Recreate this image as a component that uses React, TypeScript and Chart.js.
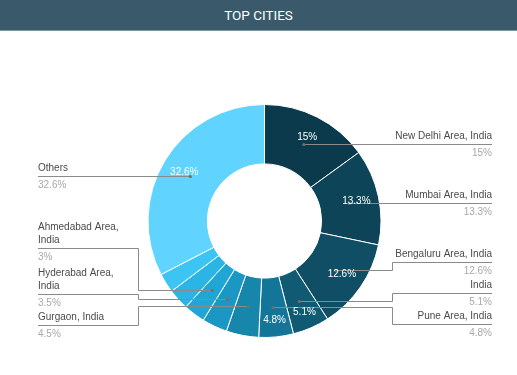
import React, { useEffect, useRef } from 'react';
import { Chart, registerables } from 'chart.js';

Chart.register(...registerables);

const TITLE = 'TOP CITIES';
const cities = [
  'New Delhi Area, India',
  'Mumbai Area, India',
  'Bengaluru Area, India',
  'India',
  'Pune Area, India',
  'Gurgaon, India',
  'Hyderabad Area, India',
  'Ahmedabad Area, India',
  'Chennai Area, India',
  'Kolkata Area, India',
  'Others',
];
const shares = [15, 13.3, 12.6, 5.1, 4.8, 4.5, 3.5, 3, 2.9, 2.7, 32.6];
const colors = [
  '#0b3a4c',
  '#0d4457',
  '#0f4e65',
  '#105a74',
  '#137698',
  '#1687ab',
  '#1a97c2',
  '#1fa6d4',
  '#2ab5e5',
  '#3cc4f3',
  '#60d4fe',
];
const OUTER_LABEL_MIN = 3;
const INNER_LABEL_MIN = 4.75;

const FONT = '10px "Liberation Sans", Arial, Helvetica, sans-serif';

function wrapText(ctx: CanvasRenderingContext2D, text: string, maxW: number): string[] {
  const words = text.split(' ');
  const lines: string[] = [];
  let cur = '';
  for (const w of words) {
    const test = cur ? cur + ' ' + w : w;
    if (cur && ctx.measureText(test).width > maxW) {
      lines.push(cur);
      cur = w;
    } else {
      cur = test;
    }
  }
  if (cur) lines.push(cur);
  return lines;
}

const labelPlugin = {
  id: 'cityLabels',
  afterDatasetsDraw(chart: any) {
    const ctx: CanvasRenderingContext2D = chart.ctx;
    const meta = chart.getDatasetMeta(0);
    const area = chart.chartArea;
    const W = chart.width;
    const first: any = meta.data[0];
    const cx = first.x;
    const cy = first.y;
    const outer = first.outerRadius;
    const inner = first.innerRadius;
    const midR = (outer + inner) / 2;
    const colW = 100;
    const edgeL = 38;
    const edgeR = W - 25;
    const below = 15.5;
    const above = (it: any) => 15.5 + 15 * (it.lines.length - 1);
    const maxY = area.bottom - 13;
    const minY = 20;

    ctx.save();
    ctx.font = FONT;

    const items: any[] = [];
    meta.data.forEach((arc: any, i: number) => {
      const v = shares[i];
      if (v < OUTER_LABEL_MIN) return;
      const mid = (arc.startAngle + arc.endAngle) / 2;
      const ax = cx + Math.cos(mid) * midR;
      const ay = cy + Math.sin(mid) * midR;
      items.push({
        i,
        ax,
        ay,
        side: ax >= cx ? 'right' : 'left',
        lines: wrapText(ctx, cities[i], colW - 1),
        y: ay,
      });
    });

    const place = (b: any) => {
      let t = 0;
      b.items.forEach((it: any, k: number) => (t += it.ay - b.offs[k]));
      t /= b.items.length;
      const last = b.offs[b.offs.length - 1];
      if (t + last > maxY) t = maxY - last;
      if (t < minY) t = minY;
      b.t = t;
    };

    const layout = (list: any[]) => {
      list.sort((a, b) => a.ay - b.ay);
      const blocks: any[] = [];
      for (const it of list) {
        const b: any = { items: [it], offs: [0] };
        place(b);
        blocks.push(b);
        while (blocks.length > 1) {
          const p = blocks[blocks.length - 2];
          const c = blocks[blocks.length - 1];
          const gap = below + above(c.items[0]);
          const pLast = p.offs[p.offs.length - 1];
          if (p.t + pLast + gap <= c.t) break;
          const base = pLast + gap;
          const merged: any = {
            items: [...p.items, ...c.items],
            offs: [...p.offs, ...c.offs.map((o: number) => o + base)],
          };
          place(merged);
          blocks.splice(blocks.length - 2, 2, merged);
        }
      }
      blocks.forEach((b) => b.items.forEach((it: any, k: number) => (it.y = b.t + b.offs[k])));
    };

    layout(items.filter((it) => it.side === 'left'));
    layout(items.filter((it) => it.side === 'right'));

    // leader lines
    ctx.strokeStyle = '#8a8a8a';
    ctx.lineWidth = 1;
    for (const it of items) {
      const right = it.side === 'right';
      const edge = right ? edgeR : edgeL;
      const elbow = Math.round(right ? edgeR - colW : edgeL + colW) + 0.5;
      const ayR = Math.round(it.ay) + 0.5;
      let Ly = Math.round(it.y) + 0.5;
      ctx.beginPath();
      ctx.moveTo(it.ax, ayR);
      if (Math.abs(it.y - it.ay) < 1) {
        Ly = ayR;
        ctx.lineTo(edge, ayR);
      } else {
        ctx.lineTo(elbow, ayR);
        ctx.lineTo(elbow, Ly);
        ctx.lineTo(edge, Ly);
      }
      ctx.stroke();
      it.Ly = Ly;
      ctx.fillStyle = '#6f6f6f';
      ctx.beginPath();
      ctx.arc(it.ax, ayR, 1.6, 0, Math.PI * 2);
      ctx.fill();
    }

    // outer texts
    ctx.textBaseline = 'middle';
    for (const it of items) {
      const right = it.side === 'right';
      const edge = right ? edgeR : edgeL;
      ctx.textAlign = right ? 'right' : 'left';
      ctx.fillStyle = '#4a4a4a';
      const n = it.lines.length;
      it.lines.forEach((ln: string, k: number) => {
        ctx.fillText(ln, edge, it.Ly - 8 - (n - 1 - k) * 13.5);
      });
      ctx.fillStyle = '#a8a8a8';
      ctx.fillText(shares[it.i] + '%', edge, it.Ly + 8.5);
    }

    // inner texts
    ctx.textAlign = 'center';
    ctx.fillStyle = '#ffffff';
    meta.data.forEach((arc: any, i: number) => {
      const v = shares[i];
      if (v < INNER_LABEL_MIN) return;
      const mid = (arc.startAngle + arc.endAngle) / 2;
      const r = inner + (outer - inner) * (v >= 6 ? 0.62 : 0.72);
      ctx.fillText(v + '%', cx + Math.cos(mid) * r, cy + Math.sin(mid) * r);
    });

    ctx.restore();
  },
};

export default function App() {
  const canvasRef = useRef<HTMLCanvasElement | null>(null);

  useEffect(() => {
    if (!canvasRef.current) return;
    const chart = new Chart(canvasRef.current, {
      type: 'doughnut',
      data: {
        labels: cities,
        datasets: [
          {
            data: shares,
            backgroundColor: colors,
            borderColor: '#ffffff',
            borderWidth: 1,
          },
        ],
      },
      options: {
        responsive: true,
        maintainAspectRatio: false,
        animation: false,
        cutout: '49%',
        events: [],
        layout: { padding: { top: 73, bottom: 37, left: 147, right: 135 } },
        plugins: {
          legend: { display: false },
          tooltip: { enabled: false },
        },
      } as any,
      plugins: [labelPlugin as any],
    });
    return () => chart.destroy();
  }, []);

  return (
    <div
      style={{
        position: 'absolute',
        left: 0,
        top: 0,
        width: 517,
        height: 375,
        background: '#ffffff',
      }}
    >
      <div
        style={{
          height: 30,
          background: '#3a5a6b',
          borderBottom: '1px solid #7f95a0',
          color: '#ffffff',
          fontFamily: 'Roboto, "Liberation Sans", Arial, sans-serif',
          fontWeight: 400,
          fontSize: 13.5,
          lineHeight: '30px',
          textAlign: 'center',
        }}
      >
        {TITLE}
      </div>
      <div style={{ position: 'relative', width: 517, height: 344 }}>
        <canvas ref={canvasRef} />
      </div>
    </div>
  );
}
